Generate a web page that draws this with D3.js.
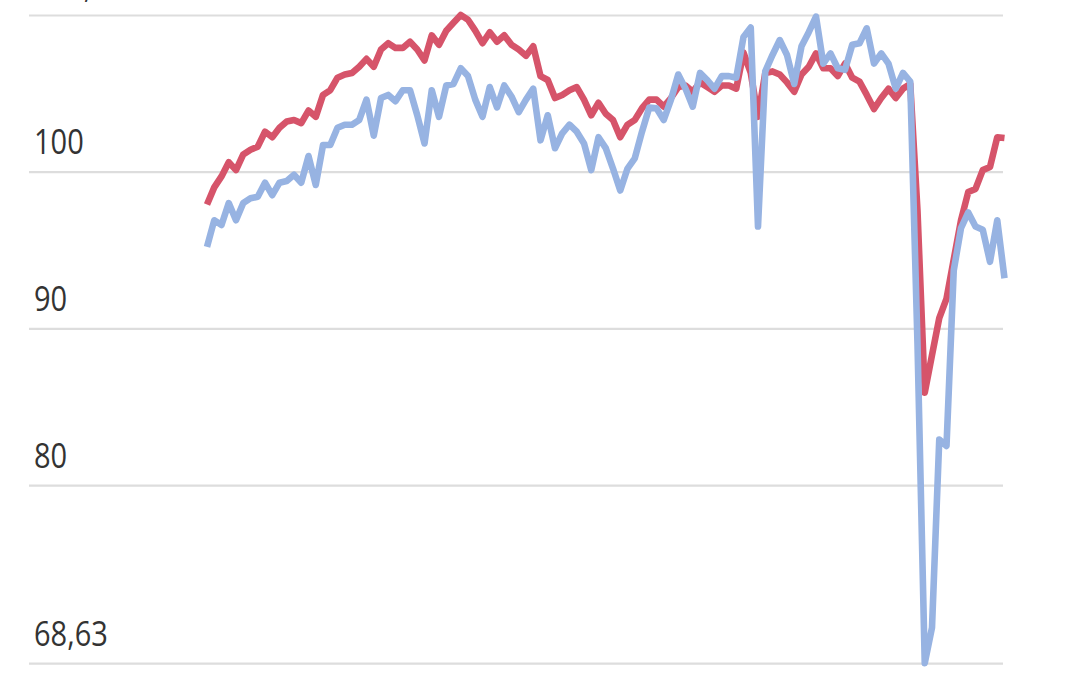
<!DOCTYPE html>
<html>
<head>
<meta charset="utf-8">
<script src="https://cdn.jsdelivr.net/npm/d3@7"></script>
<style>
  html, body { margin: 0; padding: 0; background: #ffffff; overflow: hidden; }
  svg { display: block; }
</style>
</head>
<body>
<svg id="chart" width="1080" height="675"></svg>
<script>
// ---- data ----
const redSeries = [
  97.9, 99.0, 99.7, 100.6, 100.1, 101.1, 101.4, 101.6, 102.55, 102.2,
  102.8, 103.2, 103.3, 103.1, 103.9, 103.5, 104.9, 105.2, 106.0, 106.2,
  106.3, 106.7, 107.2, 106.7, 107.8, 108.2, 107.9, 107.9, 108.3, 107.8,
  107.1, 108.7, 108.1, 109.0, 109.5, 110.0, 109.7, 109.0, 108.2, 108.9,
  108.3, 108.7, 108.1, 107.8, 107.4, 108.0, 106.1, 105.85, 104.7, 104.9,
  105.2, 105.4, 104.6, 103.6, 104.4, 103.7, 103.3, 102.2, 103.0, 103.3,
  104.05, 104.6, 104.6, 104.15, 104.7, 105.4, 105.5, 105.1, 105.7, 105.4,
  105.1, 105.5, 105.5, 105.3, 107.6, 106.3, 103.5, 106.3, 106.4, 106.2,
  105.7, 105.1, 106.2, 106.7, 107.55, 106.6, 106.6, 106.1, 106.9, 106.0,
  105.75, 104.9, 104.0, 104.7, 105.3, 104.7, 105.3, 105.6, 97.5, 85.9,
  88.3, 90.65, 91.9, 94.4, 96.9, 98.7, 98.9, 100.1, 100.3, 102.2,
  102.15
];
const blueSeries = [
  95.2, 96.9, 96.6, 98.0, 96.9, 98.0, 98.3, 98.4, 99.3, 98.5,
  99.3, 99.4, 99.8, 99.3, 101.0, 99.15, 101.7, 101.7, 102.8, 103.0,
  103.0, 103.3, 104.6, 102.3, 104.7, 104.9, 104.5, 105.2, 105.2, 103.6,
  101.8, 105.2, 103.5, 105.5, 105.6, 106.6, 106.1, 104.6, 103.5, 105.4,
  104.1, 105.5, 104.8, 103.8, 104.6, 105.3, 102.0, 103.6, 101.5, 102.45,
  103.0, 102.55, 101.8, 100.1, 102.2, 101.5, 100.2, 98.8, 100.2, 100.85,
  102.55, 104.1, 104.05, 103.3, 104.6, 106.2, 105.3, 104.15, 106.3, 105.85,
  105.3, 106.1, 106.1, 106.0, 108.6, 109.2, 96.5, 106.4, 107.45, 108.4,
  107.45, 105.6, 108.0, 108.9, 109.9, 106.9, 107.55, 106.6, 106.5, 108.1,
  108.2, 109.15, 106.9, 107.55, 106.9, 105.3, 106.3, 105.75, 89.0, 68.63,
  70.9, 82.9, 82.5, 93.7, 96.4, 97.4, 96.5, 96.3, 94.25, 96.9,
  93.2
];
const periods = redSeries.map((_, i) => i);   // monthly periods (index)
const tickValues = [68.63, 80, 90, 100, 110.0];
const tickLabels = ["68,63", "80", "90", "100", "110,00"];

// ---- layout ----
const svg = d3.select("#chart");
const xLeft = 207, xRight = 1004.5;
const yTop = 15, yBottom = 663.2;
const gridLeft = 29, gridRight = 1003;

const x = d3.scaleLinear().domain([0, periods.length - 1]).range([xLeft, xRight]);
const y = d3.scaleLinear().domain([68.63, 110.0]).range([yBottom, yTop]);

// gridlines + labels via a d3 axis
const yAxis = d3.axisLeft(y)
  .tickValues(tickValues)
  .tickSize(0)
  .tickFormat((d, i) => tickLabels[i]);

const gAxis = svg.append("g").call(yAxis);
gAxis.select(".domain").remove();
gAxis.selectAll(".tick line")
  .attr("x1", gridLeft).attr("x2", gridRight)
  .attr("stroke", "#dddddd")
  .attr("stroke-width", 2.2);
gAxis.selectAll(".tick text")
  .attr("x", 0).attr("dy", 0)
  .attr("text-anchor", "start")
  .attr("fill", "#333333")
  .style("font-family", "'Open Sans', 'Noto Sans', sans-serif")
  .style("font-size", "29px")
  .attr("transform", "translate(34,-18) scale(1,1.17)");

// lines
const line = d3.line()
  .x((d, i) => x(periods[i]))
  .y(d => y(d));

svg.append("path")
  .datum(redSeries)
  .attr("d", line)
  .attr("fill", "none")
  .attr("stroke", "#d6546a")
  .attr("stroke-width", 6.6)
  .attr("stroke-linejoin", "round")
  .attr("stroke-linecap", "butt");

svg.append("path")
  .datum(blueSeries)
  .attr("d", line)
  .attr("fill", "none")
  .attr("stroke", "#97b3e2")
  .attr("stroke-width", 6.6)
  .attr("stroke-linejoin", "round")
  .attr("stroke-linecap", "butt");
</script>
</body>
</html>
